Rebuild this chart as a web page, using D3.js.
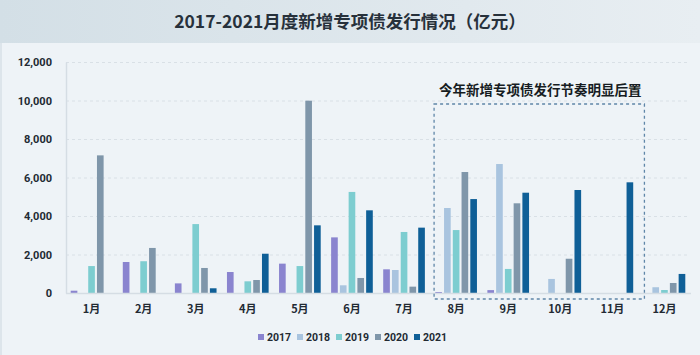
<!DOCTYPE html>
<html>
<head>
<meta charset="utf-8">
<script src="https://cdn.jsdelivr.net/npm/d3@7/dist/d3.min.js"></script>
<style>
  html, body { margin: 0; padding: 0; background: #eef3f7; }
  svg { display: block; }
</style>
</head>
<body>
<svg id="chart" width="700" height="355"></svg>
<script>
const months = ["1月","2月","3月","4月","5月","6月","7月","8月","9月","10月","11月","12月"];
const years = ["2017","2018","2019","2020","2021"];
const v2017 = [120, 1610, 500, 1090, 1525, 2890, 1230, 50, 150, 0, 0, 0];
const v2018 = [0, 0, 0, 0, 0, 400, 1195, 4415, 6700, 730, 0, 300];
const v2019 = [1400, 1650, 3580, 607, 1400, 5250, 3170, 3270, 1250, 0, 0, 155];
const v2020 = [7150, 2340, 1300, 675, 9990, 780, 330, 6285, 4660, 1780, 0, 520];
const v2021 = [0, 0, 245, 2040, 3515, 4295, 3395, 4880, 5210, 5350, 5750, 990];
const yTicks = [0, 2000, 4000, 6000, 8000, 10000, 12000];
const colors = ["#8a84cf", "#a9c4df", "#7dcdd0", "#7f96aa", "#0f5f97"];
const title = "2017-2021月度新增专项债发行情况（亿元）";
const note = "今年新增专项债发行节奏明显后置";
const noteMonths = ["8月", "11月"];

const series = [v2017, v2018, v2019, v2020, v2021];
const data = months.map((m, i) => ({ month: m, values: years.map((y, k) => ({ year: y, value: series[k][i], k })) }));

const svg = d3.select("#chart");
const W = 700, H = 355;

// background
const defs = svg.append("defs");
const grad = defs.append("linearGradient").attr("id", "tg").attr("x1", "0").attr("x2", "1");
grad.append("stop").attr("offset", "0").attr("stop-color", "#d3dfe6");
grad.append("stop").attr("offset", "1").attr("stop-color", "#e8eef2");
svg.append("rect").attr("width", W).attr("height", H).attr("fill", "#eef3f7");
svg.append("rect").attr("width", W).attr("height", 43).attr("fill", "url(#tg)");
svg.append("line").attr("x1", 1).attr("x2", 1).attr("y1", 43).attr("y2", H).attr("stroke", "#dde5eb").attr("stroke-width", 2);

svg.append("text").attr("x", 350).attr("y", 28).attr("text-anchor", "middle")
  .attr("font-family", "'Noto Sans CJK SC', 'Noto Sans', sans-serif").attr("font-weight", "bold")
  .attr("font-size", 17.5).attr("fill", "#27313b").text(title);

const x0 = d3.scaleBand().domain(months).range([65.5, 690.5]).paddingInner(0).paddingOuter(0);
const x1 = d3.scaleBand().domain(years).range([0, x0.bandwidth() * 0.8]).paddingInner(0.24).paddingOuter(0);
const y = d3.scaleLinear().domain([0, 12000]).range([293, 62]);

// grid
const grid = svg.append("g");
grid.selectAll("line").data(yTicks.filter(t => t > 0)).join("line")
  .attr("x1", 66).attr("x2", 690).attr("y1", d => y(d) + 0.5).attr("y2", d => y(d) + 0.5)
  .attr("stroke", "#d9e0e6").attr("stroke-dasharray", "3,3").attr("stroke-width", 1);

// y axis
const yAxis = svg.append("g").attr("transform", "translate(66,0)")
  .call(d3.axisLeft(y).tickValues(yTicks).tickFormat(d3.format(",")).tickSize(0).tickPadding(14));
yAxis.select(".domain").attr("stroke", "#d5dde4").attr("stroke-width", 1.5);
yAxis.selectAll("text").attr("font-family", "Roboto, 'Noto Sans', sans-serif").attr("font-weight", "bold")
  .attr("font-size", 11).attr("fill", "#222a33");

// bars
const groups = svg.append("g").selectAll("g").data(data).join("g")
  .attr("transform", d => `translate(${x0(d.month) + x0.bandwidth() * 0.1},0)`);
groups.selectAll("rect").data(d => d.values.filter(v => v.value > 0)).join("rect")
  .attr("x", d => x1(d.year)).attr("width", x1.bandwidth())
  .attr("y", d => y(d.value)).attr("height", d => y(0) - y(d.value))
  .attr("fill", d => colors[d.k]);

// x axis
const xAxis = svg.append("g").attr("transform", "translate(0,293)")
  .call(d3.axisBottom(x0).tickSize(0).tickPadding(12));
xAxis.select(".domain").attr("stroke", "#d5dde4").attr("stroke-width", 1.5);
xAxis.selectAll("text").attr("font-family", "'Noto Sans CJK SC', sans-serif").attr("font-weight", "bold")
  .attr("font-size", 11).attr("fill", "#222a33");

// annotation box
const bx0 = x0(noteMonths[0]) + 4;
const bx1 = x0(noteMonths[1]) + x0.bandwidth() + 6;
svg.append("rect").attr("x", bx0).attr("y", 104).attr("width", bx1 - bx0).attr("height", 195)
  .attr("fill", "none").attr("stroke", "#5f86a8").attr("stroke-width", 1.3).attr("stroke-dasharray", "3,3");
svg.append("text").attr("x", (bx0 + bx1) / 2 + 1).attr("y", 95).attr("text-anchor", "middle")
  .attr("font-family", "'Noto Sans CJK SC', sans-serif").attr("font-weight", "bold")
  .attr("font-size", 13.5).attr("fill", "#161c22").text(note);

// legend
const legend = svg.append("g").attr("transform", "translate(258,337)");
const li = legend.selectAll("g").data(years).join("g").attr("transform", (d, i) => `translate(${i * 39},0)`);
li.append("rect").attr("x", 0).attr("y", -3).attr("width", 6).attr("height", 6).attr("fill", (d, i) => colors[i]);
li.append("text").attr("x", 9).attr("y", 4).attr("font-family", "Roboto, 'Noto Sans', sans-serif")
  .attr("font-weight", "bold").attr("font-size", 10.5).attr("fill", "#222a33").text(d => d);
</script>
</body>
</html>
